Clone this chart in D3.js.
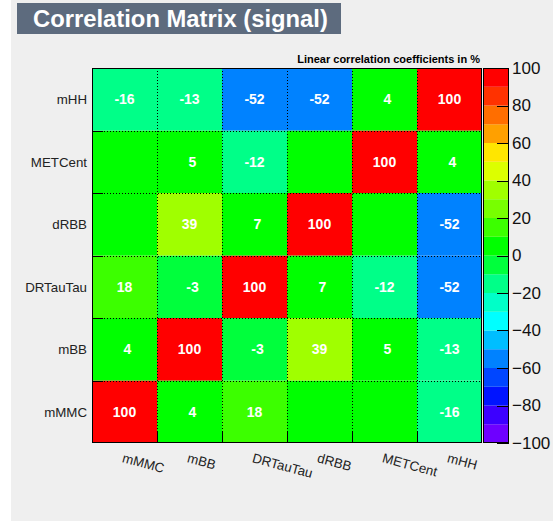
<!DOCTYPE html>
<html>
<head>
<meta charset="utf-8">
<script src="https://cdn.jsdelivr.net/npm/d3@7"></script>
<style>
  html, body { margin: 0; padding: 0; background: #ffffff; }
  svg { display: block; }
  text { font-family: "Liberation Sans", Arial, Helvetica, sans-serif; }
</style>
</head>
<body>
<svg id="chart" width="553" height="521"></svg>
<script>
// Variables in the correlation matrix (columns left to right, rows bottom to top)
const variables = ["mMMC", "mBB", "DRTauTau", "dRBB", "METCent", "mHH"];

// Correlation coefficients in %, one array per row variable (columns follow `variables`)
const rowMMMC     = [100,   4,  18,   0,   0, -16];
const rowMBB      = [  4, 100,  -3,  39,   5, -13];
const rowDRTauTau = [ 18,  -3, 100,   7, -12, -52];
const rowDRBB     = [  0,  39,   7, 100,   0, -52];
const rowMETCent  = [  0,   5, -12,   0, 100,   4];
const rowMHH      = [-16, -13, -52, -52,   4, 100];

// Colour bar tick values
const paletteTicks = [-100, -80, -60, -40, -20, 0, 20, 40, 60, 80, 100];

// 20-step rainbow palette, from -100 up to +100
const paletteColors = [
  "#6e00ff", "#3c00ff", "#0014ff", "#0046ff", "#0082ff",
  "#00beff", "#00ffff", "#00ffc8", "#00ff88", "#00ff3c",
  "#00ff00", "#3cff00", "#78ff00", "#a0ff00", "#dcff00",
  "#ffe600", "#ffa000", "#ff6e00", "#ff3200", "#ff0000"
];

(function () {
const rows = [rowMMMC, rowMBB, rowDRTauTau, rowDRBB, rowMETCent, rowMHH];
const cells = [];
rows.forEach((vals, r) => vals.forEach((v, c) => cells.push({ row: variables[r], col: variables[c], value: v })));

const svg = d3.select("#chart");
const W = 553, H = 521;

// Canvas background
svg.append("rect").attr("x", 11).attr("y", 0).attr("width", W - 11).attr("height", H).attr("fill", "#efefef");

// Frame geometry
const fLeft = 92, fRight = 482, fTop = 68, fBottom = 443;
const barLeft = 483, barRight = 509;

const x = d3.scaleBand().domain(variables).range([fLeft, fRight]);
const y = d3.scaleBand().domain(variables).range([fBottom, fTop]);
const color = d3.scaleThreshold()
  .domain(d3.range(-90, 100, 10))
  .range(paletteColors);

// Cells
svg.append("g").selectAll("rect").data(cells).join("rect")
  .attr("x", d => x(d.col))
  .attr("y", d => y(d.row))
  .attr("width", x.bandwidth())
  .attr("height", y.bandwidth())
  .attr("fill", d => color(d.value));

// Dotted grid at cell boundaries
const grid = svg.append("g").attr("stroke", "#000").attr("stroke-width", 1).attr("stroke-dasharray", "1,2");
variables.slice(1).forEach(v => {
  const gx = Math.round(x(v)) + 0.5;
  grid.append("line").attr("x1", gx).attr("x2", gx).attr("y1", fTop).attr("y2", fBottom);
  const gy = Math.round(y(v) + y.bandwidth()) + 0.5;
  grid.append("line").attr("x1", fLeft).attr("x2", fRight).attr("y1", gy).attr("y2", gy);
});

// Value labels
svg.append("g").selectAll("text").data(cells.filter(d => d.value !== 0)).join("text")
  .attr("x", d => x(d.col) + x.bandwidth() / 2 + (Math.abs(d.value) < 10 ? 3 : 0))
  .attr("y", d => y(d.row) + y.bandwidth() / 2)
  .attr("dy", "0.36em")
  .attr("text-anchor", "middle")
  .attr("fill", "#ffffff")
  .attr("font-weight", "bold")
  .attr("font-size", 14)
  .text(d => d.value);

// Axes: ticks at cell boundaries, names at cell centres
const axes = svg.append("g").attr("stroke", "#000").attr("stroke-width", 1);
variables.slice(1).forEach(v => {
  const tx = Math.round(x(v)) + 0.5;
  axes.append("line").attr("x1", tx).attr("x2", tx).attr("y1", fBottom).attr("y2", fBottom - 11);
  const ty = Math.round(y(v) + y.bandwidth()) + 0.5;
  axes.append("line").attr("x1", fLeft).attr("x2", fLeft + 11).attr("y1", ty).attr("y2", ty);
});

svg.append("g").selectAll("text").data(variables).join("text")
  .attr("x", 87)
  .attr("y", d => y(d) + y.bandwidth() / 2)
  .attr("dy", "0.36em")
  .attr("text-anchor", "end")
  .attr("font-size", 13.3)
  .attr("fill", "#222")
  .text(d => d);

svg.append("g").selectAll("text").data(variables).join("text")
  .attr("transform", d => `translate(${x(d) + x.bandwidth() / 2 - 3},${462}) rotate(15)`)
  .attr("text-anchor", "start")
  .attr("font-size", 13.3)
  .attr("fill", "#222")
  .text(d => d);

// Plot frame
svg.append("rect").attr("x", fLeft + 0.5).attr("y", fTop + 0.5)
  .attr("width", fRight - fLeft - 1).attr("height", fBottom - fTop - 1)
  .attr("fill", "none").attr("stroke", "#000");

// Colour bar
const z = d3.scaleLinear().domain([-100, 100]).range([fBottom, fTop]);
svg.append("g").selectAll("rect").data(paletteColors).join("rect")
  .attr("x", barLeft)
  .attr("y", (c, i) => z(-100 + (i + 1) * 10))
  .attr("width", barRight - barLeft)
  .attr("height", (c, i) => z(-100 + i * 10) - z(-100 + (i + 1) * 10))
  .attr("fill", c => c);
svg.append("rect").attr("x", barLeft + 0.5).attr("y", fTop + 0.5)
  .attr("width", barRight - barLeft - 1).attr("height", fBottom - fTop - 1)
  .attr("fill", "none").attr("stroke", "#000");

const zAxis = d3.axisRight(z).tickValues(paletteTicks).tickSize(0).tickPadding(3)
  .tickFormat(d => d < 0 ? "\u2212" + Math.abs(d) : String(d));
const zg = svg.append("g").attr("transform", `translate(${barRight},0)`).call(zAxis);
zg.select(".domain").remove();
zg.selectAll("text").attr("font-size", 17).attr("fill", "#111")
  .attr("font-family", "'Liberation Sans', Arial, sans-serif");
paletteTicks.forEach(t => {
  const ty = Math.round(z(t)) + 0.5;
  svg.append("line").attr("x1", barRight - 12).attr("x2", barRight).attr("y1", ty).attr("y2", ty)
    .attr("stroke", "#000");
});

// Palette caption
svg.append("text").attr("x", 480).attr("y", 63).attr("text-anchor", "end")
  .attr("font-size", 11).attr("font-weight", "bold").attr("fill", "#000")
  .text("Linear correlation coefficients in %");

// Title box
svg.append("rect").attr("x", 17).attr("y", 3).attr("width", 324).attr("height", 31).attr("fill", "#5d6b7e");
svg.append("text").attr("x", 33).attr("y", 27).attr("font-size", 23.8).attr("font-weight", "bold")
  .attr("fill", "#ffffff").text("Correlation Matrix (signal)");
})();
</script>
</body>
</html>
